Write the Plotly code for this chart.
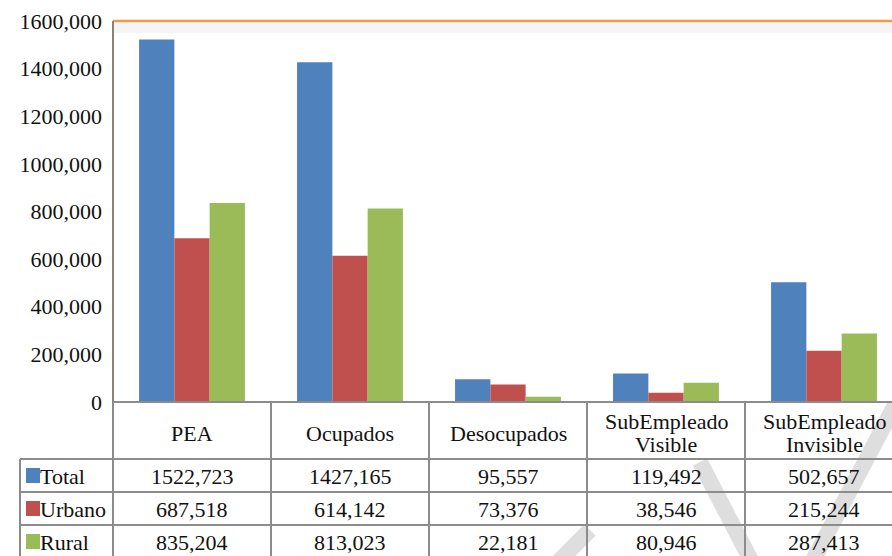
import plotly.graph_objects as go

# Datos del cuadro
categorias = ["PEA", "Ocupados", "Desocupados", "SubEmpleado<br>Visible", "SubEmpleado<br>Invisible"]
total = [1522723, 1427165, 95557, 119492, 502657]
urbano = [687518, 614142, 73376, 38546, 215244]
rural = [835204, 813023, 22181, 80946, 287413]
series = ["Total", "Urbano", "Rural"]
colores = ["#4F81BD", "#C0504D", "#9BBB59"]
ytick_vals = [0, 200000, 400000, 600000, 800000, 1000000, 1200000, 1400000, 1600000]
ytick_text = ["0", "200,000", "400,000", "600,000", "800,000", "1000,000", "1200,000", "1400,000", "1600,000"]

W, H = 892, 556
L, T, B = 113, 21, 154
pw, ph = W - L, H - T - B


def px_x(x):
    return (x - L) / pw


def px_y(y):
    return (H - B - y) / ph


def fmt(v):
    # formato del original: solo separa los miles
    return f"{v // 1000},{v % 1000:03d}"


fig = go.Figure()
for nombre, vals, col in zip(series, [total, urbano, rural], colores):
    fig.add_trace(go.Bar(x=list(range(len(categorias))), y=vals, name=nombre,
                         marker=dict(color=col, line=dict(width=0)), hoverinfo="skip"))

fuente = dict(family="Liberation Serif", size=22, color="#111")
gris = "#8c8c8c"
shapes = []
ann = []

# marco: linea superior naranja y eje izquierdo
shapes.append(dict(type="line", xref="paper", yref="paper", x0=0, x1=1, y0=1, y1=1,
                   line=dict(color="#F79646", width=2.5)))
shapes.append(dict(type="rect", xref="paper", yref="paper", x0=0, x1=1, y0=px_y(33), y1=px_y(23),
                   fillcolor="rgba(0,0,0,0.04)", line=dict(width=0), layer="below"))
shapes.append(dict(type="line", xref="paper", yref="paper", x0=0, x1=0, y0=0, y1=1,
                   line=dict(color="#8B8178", width=2)))

# filas de la tabla
row_lines = [402, 459, 492, 525]
for i, yy in enumerate(row_lines):
    shapes.append(dict(type="line", xref="paper", yref="paper",
                       x0=px_x(113 if i == 0 else 20), x1=1.0, y0=px_y(yy), y1=px_y(yy),
                       line=dict(color=gris, width=2)))
# columnas
shapes.append(dict(type="line", xref="paper", yref="paper", x0=px_x(20), x1=px_x(20),
                   y0=px_y(459), y1=px_y(560), line=dict(color=gris, width=2)))
shapes.append(dict(type="line", xref="paper", yref="paper", x0=0, x1=0,
                   y0=px_y(402), y1=px_y(560), line=dict(color=gris, width=2)))
for i in range(len(categorias) - 1):
    shapes.append(dict(type="line", xref="x", yref="paper", x0=i + 0.5, x1=i + 0.5,
                       y0=px_y(402), y1=px_y(560), line=dict(color=gris, width=2)))

# marca de agua
for (x0, y0, x1, y1) in [(700, 462, 756, 570), (895, 405, 808, 570), (545, 575, 590, 530)]:
    shapes.append(dict(type="line", xref="paper", yref="paper", x0=px_x(x0), x1=px_x(x1),
                       y0=px_y(y0), y1=px_y(y1), line=dict(color="rgba(200,200,200,0.6)", width=16),
                       layer="below"))

# encabezados
for i, c in enumerate(categorias):
    partes = c.split("<br>")
    if len(partes) == 1:
        ann.append(dict(x=i, y=px_y(433), xref="x", yref="paper", text=c, showarrow=False,
                        font=fuente, xanchor="center", yanchor="middle"))
    else:
        for p, yy in zip(partes, [421, 444]):
            ann.append(dict(x=i, y=px_y(yy), xref="x", yref="paper", text=p, showarrow=False,
                            font=fuente, xanchor="center", yanchor="middle"))

# valores y leyenda
row_centers = [476, 509, 542]
for nombre, vals, col, yc in zip(series, [total, urbano, rural], colores, row_centers):
    for i, v in enumerate(vals):
        ann.append(dict(x=i, y=px_y(yc), xref="x", yref="paper", text=fmt(v), showarrow=False,
                        font=fuente, xanchor="center", yanchor="middle"))
    shapes.append(dict(type="rect", xref="paper", yref="paper", x0=px_x(26), x1=px_x(40),
                       y0=px_y(yc + 7), y1=px_y(yc - 8), fillcolor=col, line=dict(width=0)))
    ann.append(dict(x=px_x(38), y=px_y(yc), xref="paper", yref="paper", text=nombre,
                    showarrow=False, xanchor="left", yanchor="middle", font=fuente))

fig.update_layout(
    width=W, height=H,
    margin=dict(l=L, r=0, t=T, b=B),
    plot_bgcolor="white", paper_bgcolor="white",
    barmode="group", bargap=0.33, bargroupgap=0,
    showlegend=False,
    hovermode=False,
    xaxis=dict(range=[-0.5, -0.5 + pw / 158.0], showticklabels=False, showgrid=False,
               zeroline=False, showline=False, ticks="", fixedrange=True),
    yaxis=dict(range=[0, 1600000], tickvals=ytick_vals, ticktext=ytick_text,
               showgrid=False, zeroline=False, showline=False, ticks="",
               tickfont=fuente, ticklabelstandoff=10, fixedrange=True),
    shapes=shapes,
    annotations=ann,
)

fig.write_html("out.html", config={"displayModeBar": False},
               post_script="document.body.style.margin='0';")
